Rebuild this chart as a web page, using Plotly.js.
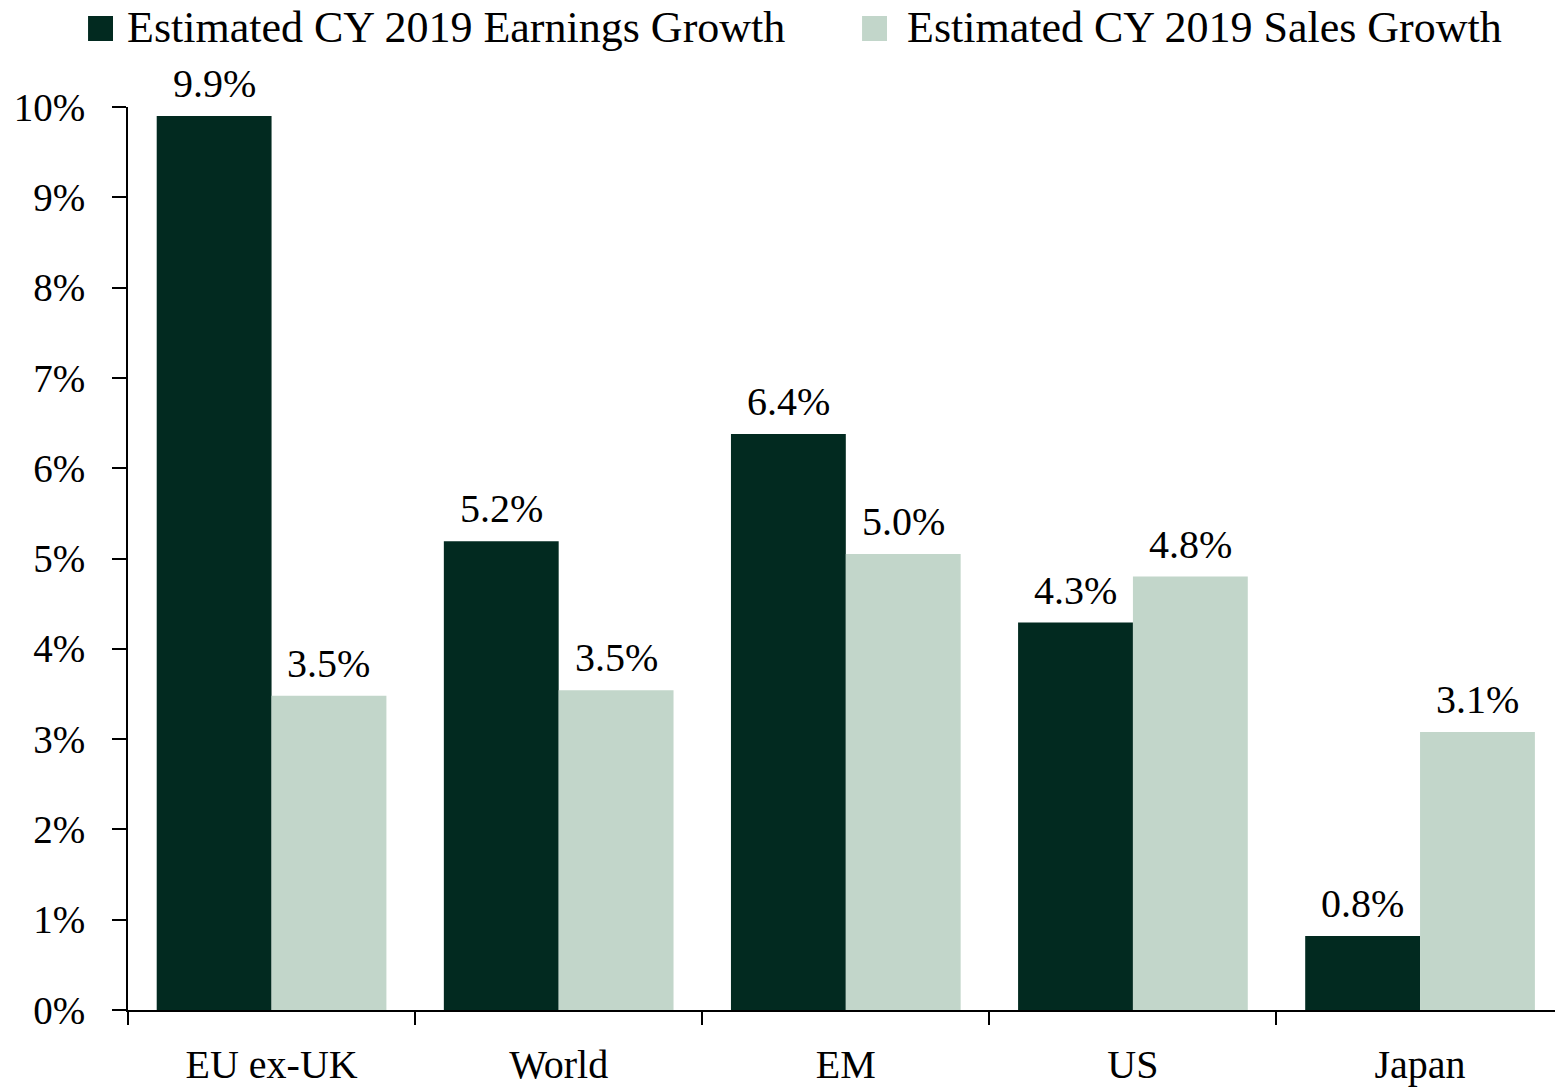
<!DOCTYPE html>
<html>
<head>
<meta charset="utf-8">
<script src="https://cdn.plot.ly/plotly-3.0.1.min.js"></script>
<style>
  html, body { margin: 0; padding: 0; background: #fff; }
  #chart { width: 1555px; height: 1090px; }
</style>
</head>
<body>
<div id="chart"></div>
<script>
// categories and series
const regions = ['EU ex-UK', 'World', 'EM', 'US', 'Japan'];
const earningsGrowth = [9.9, 5.19, 6.38, 4.29, 0.82];
const salesGrowth = [3.48, 3.54, 5.05, 4.8, 3.08];
const seriesNames = ['Estimated CY 2019 Earnings Growth', 'Estimated CY 2019 Sales Growth'];
const yTicks = [0, 1, 2, 3, 4, 5, 6, 7, 8, 9, 10];

const dark = '#022a20';
const light = '#c2d6ca';
const font = 'Liberation Serif, Times New Roman, serif';

const pct = v => v.toFixed(1) + '%';

const W = 1555, H = 1090;
const margin = { l: 128, r: 0, t: 107, b: 80 };
const xRange = [-0.5, 4.47];
const bargap = 0.2;

const trace1 = {
  x: regions,
  y: earningsGrowth,
  name: seriesNames[0],
  type: 'bar',
  marker: { color: dark },
  showlegend: false,
  hoverinfo: 'x+y'
};

const trace2 = {
  x: regions,
  y: salesGrowth,
  name: seriesNames[1],
  type: 'bar',
  marker: { color: light },
  showlegend: false,
  hoverinfo: 'x+y'
};

// value labels sit a bit higher above the bars than plotly's own outside text
const catPx = (W - margin.l - margin.r) / (xRange[1] - xRange[0]);
const barPx = catPx * (1 - bargap) / 2;
const valueLabels = [];
[earningsGrowth, salesGrowth].forEach((vals, s) => {
  vals.forEach((v, i) => {
    valueLabels.push({
      x: regions[i], y: v,
      xref: 'x', yref: 'y',
      xshift: (s === 0 ? -1 : 1) * barPx / 2,
      yshift: 8,
      yanchor: 'bottom',
      text: pct(v),
      showarrow: false,
      font: { family: font, size: 40, color: '#000' }
    });
  });
});

// hand-made legend (big squares like the original)
const legendItems = [
  { color: dark, x0: -0.028, x1: -0.0105, tx: -0.0021, name: seriesNames[0] },
  { color: light, x0: 0.5144, x1: 0.5319, tx: 0.5445, name: seriesNames[1] }
];

const layout = {
  width: W,
  height: H,
  margin: margin,
  paper_bgcolor: '#fff',
  plot_bgcolor: '#fff',
  font: { family: font, size: 39, color: '#000' },
  barmode: 'group',
  bargap: bargap,
  bargroupgap: 0,
  xaxis: {
    type: 'category',
    range: xRange,
    showline: true,
    linecolor: '#000',
    linewidth: 2,
    ticks: 'outside',
    tickson: 'boundaries',
    ticklen: 13,
    tickwidth: 2,
    tickcolor: '#000',
    ticklabelstandoff: 18,
    tickfont: { family: font, size: 40, color: '#000' },
    showgrid: false,
    zeroline: false,
    fixedrange: true
  },
  yaxis: {
    range: [0, 10],
    tickvals: yTicks,
    ticktext: yTicks.map(v => v + '%'),
    showline: true,
    linecolor: '#000',
    linewidth: 2,
    ticks: 'outside',
    ticklen: 14,
    tickwidth: 2,
    tickcolor: '#000',
    ticklabelstandoff: 19,
    tickfont: { family: font, size: 39, color: '#000' },
    showgrid: false,
    zeroline: false,
    fixedrange: true
  },
  shapes: legendItems.map(it => ({
    type: 'rect',
    xref: 'paper', yref: 'paper',
    x0: it.x0, x1: it.x1, y0: 1.0731, y1: 1.1008,
    fillcolor: it.color,
    line: { width: 0 }
  })),
  annotations: valueLabels.concat(legendItems.map(it => ({
    xref: 'paper', yref: 'paper',
    x: it.tx, y: 1.0875,
    xanchor: 'left', yanchor: 'middle',
    text: it.name,
    showarrow: false,
    font: { family: font, size: 44, color: '#000' }
  })))
};

Plotly.newPlot('chart', [trace1, trace2], layout, { displayModeBar: false, staticPlot: true });
</script>
</body>
</html>
